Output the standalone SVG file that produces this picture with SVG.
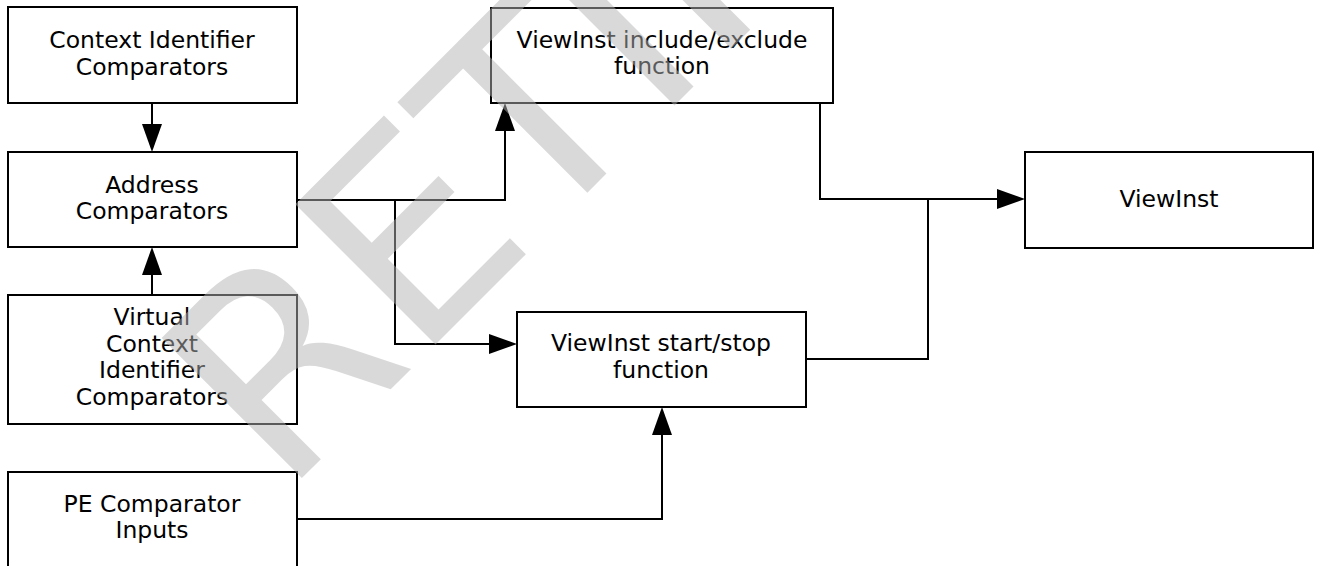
<svg xmlns="http://www.w3.org/2000/svg" width="1320" height="566" viewBox="0 0 1320 566">
<defs>
<style>
.box{fill:#fff;stroke:#000;stroke-width:2}
.lbl{font-family:"DejaVu Sans","Liberation Sans",sans-serif;font-size:23.5px;fill:#000;text-anchor:middle}
.con{fill:none;stroke:#000;stroke-width:2}
.wm{font-family:"DejaVu Sans","Liberation Sans",sans-serif;font-size:272px;fill:#b4b4b4;fill-opacity:0.5}
</style>
<marker id="ah" viewBox="0 0 28 20" refX="0" refY="10" markerWidth="28" markerHeight="20" markerUnits="userSpaceOnUse" orient="auto">
<path d="M0,0 L28,10 L0,20 Z" fill="#000"/>
</marker>
</defs>
<rect width="1320" height="566" fill="#fff"/>
<g id="ctx">
<rect class="box" x="8" y="7" width="289" height="96"/>
<text class="lbl" x="152" y="48">Context Identifier</text>
<text class="lbl" x="152" y="75">Comparators</text>
</g>
<g id="addr">
<rect class="box" x="8" y="152" width="289" height="95"/>
<text class="lbl" x="152" y="193">Address</text>
<text class="lbl" x="152" y="219">Comparators</text>
</g>
<g id="vctx">
<rect class="box" x="8" y="295" width="289" height="129"/>
<text class="lbl" x="152" y="325">Virtual</text>
<text class="lbl" x="152" y="352">Context</text>
<text class="lbl" x="152" y="378">Identifier</text>
<text class="lbl" x="152" y="405">Comparators</text>
</g>
<g id="pe">
<rect class="box" x="8" y="472" width="289" height="96"/>
<text class="lbl" x="152" y="512">PE Comparator</text>
<text class="lbl" x="152" y="538">Inputs</text>
</g>
<g id="incl">
<rect class="box" x="491" y="8" width="342" height="95"/>
<text class="lbl" x="662" y="48">ViewInst include/exclude</text>
<text class="lbl" x="662" y="74">function</text>
</g>
<g id="ss">
<rect class="box" x="517" y="312" width="289" height="95"/>
<text class="lbl" x="661" y="351">ViewInst start/stop</text>
<text class="lbl" x="661" y="378">function</text>
</g>
<g id="vi">
<rect class="box" x="1025" y="152" width="288" height="96"/>
<text class="lbl" x="1169" y="207">ViewInst</text>
</g>
<g id="connectors">
<path class="con" d="M152,103 V124" marker-end="url(#ah)"/>
<path class="con" d="M152,295 V275" marker-end="url(#ah)"/>
<path class="con" d="M297,200 H505 V131" marker-end="url(#ah)"/>
<path class="con" d="M395,200 V344 H489" marker-end="url(#ah)"/>
<path class="con" d="M297,519 H662 V435" marker-end="url(#ah)"/>
<path class="con" d="M820,103 V199 H997" marker-end="url(#ah)"/>
<path class="con" d="M806,359 H928 V199"/>
</g>
<text class="wm" x="283" y="497" transform="rotate(-45 283 497)">RETIRED</text>
</svg>
